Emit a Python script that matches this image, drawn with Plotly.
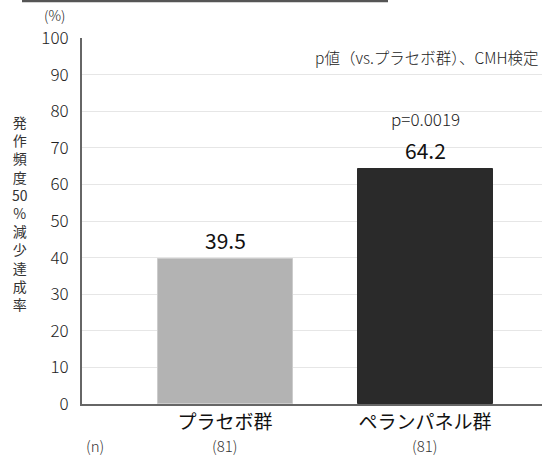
import plotly.graph_objects as go

# Data
groups = ["プラセボ群", "ペランパネル群"]
rates = [39.5, 64.2]
n_counts = ["(81)", "(81)"]
bar_colors = ["#b3b3b3", "#2a2a2a"]
y_ticks = [0, 10, 20, 30, 40, 50, 60, 70, 80, 90, 100]
p_value_text = "p=0.0019"
ytitle_lines = ["発", "作", "頻", "度", "50", "%", "減", "少", "達", "成", "率"]

FONT = "Noto Sans CJK JP, Noto Sans, sans-serif"

W, H = 542, 455
ML, MR, MT, MB = 82, 0, 38, 51
PW, PH = W - ML - MR, H - MT - MB


def px_to_paper_x(px):
    return (px - ML) / PW


def px_to_paper_y(py):
    return (H - MB - py) / PH


def f(size, color, weight=300):
    return dict(family=FONT, size=size, color=color, weight=weight)


x_idx = list(range(len(groups)))

fig = go.Figure()
fig.add_trace(go.Bar(
    x=x_idx,
    y=rates,
    width=0.675,
    marker=dict(color=bar_colors, line=dict(color=["#cccccc", "#2a2a2a"], width=1)),
    hoverinfo="skip",
    showlegend=False,
))

annotations = []

# value labels above bars
for xi, v in zip(x_idx, rates):
    annotations.append(dict(
        x=xi, y=v, xref="x", yref="y", text=f"{v:.1f}", showarrow=False,
        yanchor="middle", yshift=19, font=f(21, "#111111", 400),
    ))

# p-value over the active group
annotations.append(dict(
    x=1, y=px_to_paper_y(118), xref="x", yref="paper", text=p_value_text,
    showarrow=False, yanchor="middle", font=f(17, "#222222"),
))

# test note, top right
annotations.append(dict(
    x=px_to_paper_x(541), y=px_to_paper_y(57), xref="paper", yref="paper",
    text="p値（vs.プラセボ群）、CMH検定", showarrow=False,
    xanchor="right", yanchor="middle", font=f(15.5, "#222222"),
))

# unit label
annotations.append(dict(
    x=px_to_paper_x(54), y=px_to_paper_y(15), xref="paper", yref="paper",
    text="(%)", showarrow=False, xanchor="center", yanchor="middle",
    font=f(14, "#222222"),
))

# vertical y-axis title, one glyph per line
annotations.append(dict(
    x=px_to_paper_x(20), y=px_to_paper_y(212.5),
    xref="paper", yref="paper", text="<br>".join(ytitle_lines), showarrow=False,
    xanchor="center", yanchor="middle", align="center",
    font=f(14, "#333333", 400),
))

# sample sizes
annotations.append(dict(
    x=px_to_paper_x(95), y=px_to_paper_y(445.5), xref="paper", yref="paper",
    text="(n)", showarrow=False, xanchor="center", yanchor="middle",
    font=f(15, "#333333"),
))
for xi, n in zip(x_idx, n_counts):
    annotations.append(dict(
        x=xi, y=px_to_paper_y(445.5), xref="x", yref="paper", text=n,
        showarrow=False, xanchor="center", yanchor="middle",
        font=f(15, "#333333"),
    ))

fig.update_layout(
    width=W, height=H,
    margin=dict(l=ML, r=MR, t=MT, b=MB, pad=0),
    paper_bgcolor="white", plot_bgcolor="white",
    font=dict(family=FONT, color="#333333", weight=300),
    bargap=0,
    annotations=annotations,
    shapes=[dict(
        type="line", xref="paper", yref="paper",
        x0=px_to_paper_x(22), x1=px_to_paper_x(388),
        y0=px_to_paper_y(1), y1=px_to_paper_y(1),
        line=dict(color="#555555", width=2.5),
    )],
    xaxis=dict(
        range=[-0.715, 1.585],
        tickmode="array", tickvals=x_idx, ticktext=groups,
        tickfont=f(19, "#111111", 400),
        ticks="", ticklen=0,
        showline=True, linecolor="#666666", linewidth=2,
        showgrid=False, zeroline=False, fixedrange=True,
    ),
    yaxis=dict(
        range=[0, 100],
        tickmode="array", tickvals=y_ticks,
        tickfont=f(17, "#222222"),
        ticks="outside", ticklen=8, tickcolor="rgba(0,0,0,0)",
        showline=True, linecolor="#666666", linewidth=2,
        showgrid=True, gridcolor="#e6e6e6", gridwidth=1,
        zeroline=False, fixedrange=True,
    ),
)

fig.write_html("out.html")
